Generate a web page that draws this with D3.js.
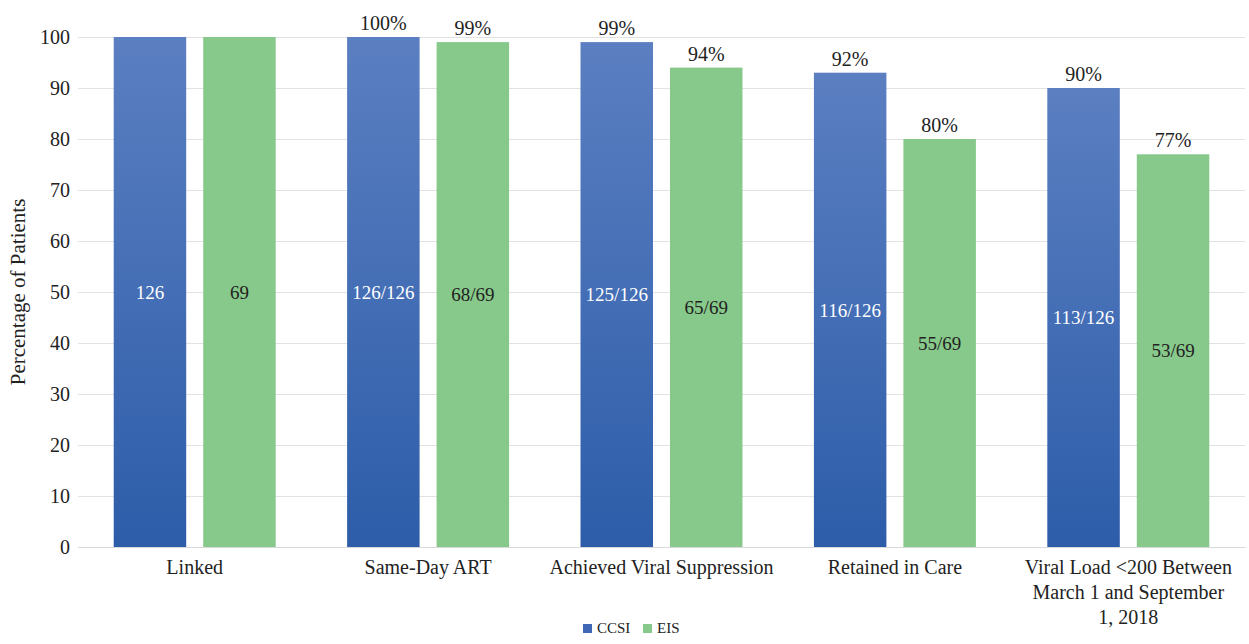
<!DOCTYPE html>
<html>
<head>
<meta charset="utf-8">
<script src="https://cdn.jsdelivr.net/npm/d3@7"></script>
<style>
    body { margin: 0; background: #fff; }
    svg text { font-family: "Liberation Serif", "Times New Roman", Tinos, "Noto Serif", "DejaVu Serif", "FreeSerif", Times, serif !important; fill: #222; }
    .grid line { stroke: #e2e2e2; }
    .grid .domain { display: none; }
</style>
</head>
<body>
<div id="chart"></div>
<script>
    // chart data
    var categories = ['Linked', 'Same-Day ART', 'Achieved Viral Suppression', 'Retained in Care',
        'Viral Load <200 Between March 1 and September 1, 2018'];
    var series = ['CCSI', 'EIS'];
    var ccsiValues = [100, 100, 99, 93, 90];
    var eisValues = [100, 99, 94, 80, 77];
    var ccsiPctLabels = ['', '100%', '99%', '92%', '90%'];
    var eisPctLabels = ['', '99%', '94%', '80%', '77%'];
    var ccsiCounts = ['126', '126/126', '125/126', '116/126', '113/126'];
    var eisCounts = ['69', '68/69', '65/69', '55/69', '53/69'];
    var yTicks = [0, 10, 20, 30, 40, 50, 60, 70, 80, 90, 100];

    var colors = { CCSI: '#3f67b5', EIS: '#87c98a' };

    var data = categories.map(function (c, i) {
        return {
            category: c,
            bars: [
                { key: 'CCSI', value: ccsiValues[i], pct: ccsiPctLabels[i], count: ccsiCounts[i] },
                { key: 'EIS', value: eisValues[i], pct: eisPctLabels[i], count: eisCounts[i] }
            ]
        };
    });

    var totalWidth = 1249, totalHeight = 644;
    var margin = { top: 37, right: 4, bottom: 97, left: 78 },
        width = totalWidth - margin.left - margin.right,
        height = totalHeight - margin.top - margin.bottom;

    var svg = d3.select('#chart')
        .append('svg')
        .attr('width', totalWidth)
        .attr('height', totalHeight);

    var defs = svg.append('defs');
    var grad = defs.append('linearGradient')
        .attr('id', 'blueGrad')
        .attr('x1', 0).attr('y1', 0).attr('x2', 0).attr('y2', 1);
    grad.append('stop').attr('offset', '0%').attr('stop-color', '#5b7fc1');
    grad.append('stop').attr('offset', '100%').attr('stop-color', '#2d5da9');

    var g = svg.append('g').attr('transform', 'translate(' + margin.left + ',' + margin.top + ')');

    var x0 = d3.scaleBand()
        .domain(categories)
        .range([0, width])
        .paddingInner(0.306)
        .paddingOuter(0.153);

    var x1 = d3.scaleBand()
        .domain(series)
        .range([0, x0.bandwidth()])
        .paddingInner(0.19);

    var y = d3.scaleLinear()
        .domain([0, 100])
        .range([height, 0]);

    // gridlines
    g.append('g')
        .attr('class', 'grid')
        .call(d3.axisLeft(y).tickValues(yTicks).tickSize(-width).tickFormat(''));

    // y axis labels
    var yAxis = g.append('g')
        .attr('font-family', null)
        .call(d3.axisLeft(y).tickValues(yTicks).tickSize(0).tickPadding(8));
    yAxis.select('.domain').remove();
    yAxis.selectAll('text')
        .style('font-size', '20px')
        .attr('fill', '#222');

    svg.append('text')
        .attr('transform', 'translate(25,' + (margin.top + height / 2) + ') rotate(-90)')
        .attr('text-anchor', 'middle')
        .style('font-size', '21px')
        .text('Percentage of Patients');

    var groups = g.selectAll('.group')
        .data(data)
        .enter()
        .append('g')
        .attr('class', 'group')
        .attr('transform', function (d) { return 'translate(' + x0(d.category) + ',0)'; });

    groups.selectAll('rect')
        .data(function (d) { return d.bars; })
        .enter()
        .append('rect')
        .attr('x', function (d) { return x1(d.key); })
        .attr('width', x1.bandwidth())
        .attr('y', function (d) { return y(d.value); })
        .attr('height', function (d) { return height - y(d.value); })
        .attr('fill', function (d) { return d.key === 'CCSI' ? 'url(#blueGrad)' : colors.EIS; });

    // percent labels above bars
    groups.selectAll('.pct')
        .data(function (d) { return d.bars; })
        .enter()
        .append('text')
        .attr('class', 'pct')
        .attr('x', function (d) { return x1(d.key) + x1.bandwidth() / 2; })
        .attr('y', function (d) { return y(d.value) - 7; })
        .attr('text-anchor', 'middle')
        .style('font-size', '20px')
        .text(function (d) { return d.pct; });

    // counts in the middle of the bars
    groups.selectAll('.count')
        .data(function (d) { return d.bars; })
        .enter()
        .append('text')
        .attr('class', 'count')
        .attr('x', function (d) { return x1(d.key) + x1.bandwidth() / 2; })
        .attr('y', function (d) { return y(d.value / 2); })
        .attr('dy', '0.35em')
        .attr('text-anchor', 'middle')
        .style('font-size', '19px')
        .style('fill', function (d) { return d.key === 'CCSI' ? '#fff' : '#222'; })
        .text(function (d) { return d.count; });

    // x axis
    var xAxis = g.append('g')
        .attr('font-family', null)
        .attr('transform', 'translate(0,' + height + ')')
        .call(d3.axisBottom(x0).tickSize(0).tickPadding(13));
    xAxis.select('.domain').attr('stroke', '#d9d9d9');
    xAxis.selectAll('text')
        .style('font-size', '20px')
        .attr('fill', '#222')
        .each(function (d) {
            if (d.indexOf('Viral Load') === 0) {
                var t = d3.select(this);
                var lines = ['Viral Load <200 Between', 'March 1 and September', '1, 2018'];
                t.text(null);
                lines.forEach(function (l, i) {
                    t.append('tspan')
                        .attr('x', 0)
                        .attr('dy', i === 0 ? '0.71em' : '1.25em')
                        .text(l);
                });
            }
        });

    // legend
    var legend = svg.append('g').attr('transform', 'translate(583,633)');
    var legendItems = [{ key: 'CCSI', x: 0 }, { key: 'EIS', x: 60 }];
    legendItems.forEach(function (item) {
        legend.append('rect')
            .attr('x', item.x)
            .attr('y', -9)
            .attr('width', 9)
            .attr('height', 9)
            .attr('fill', colors[item.key]);
        legend.append('text')
            .attr('x', item.x + 14)
            .attr('y', 0)
            .style('font-size', '15px')
            .text(item.key);
    });
</script>
</body>
</html>
